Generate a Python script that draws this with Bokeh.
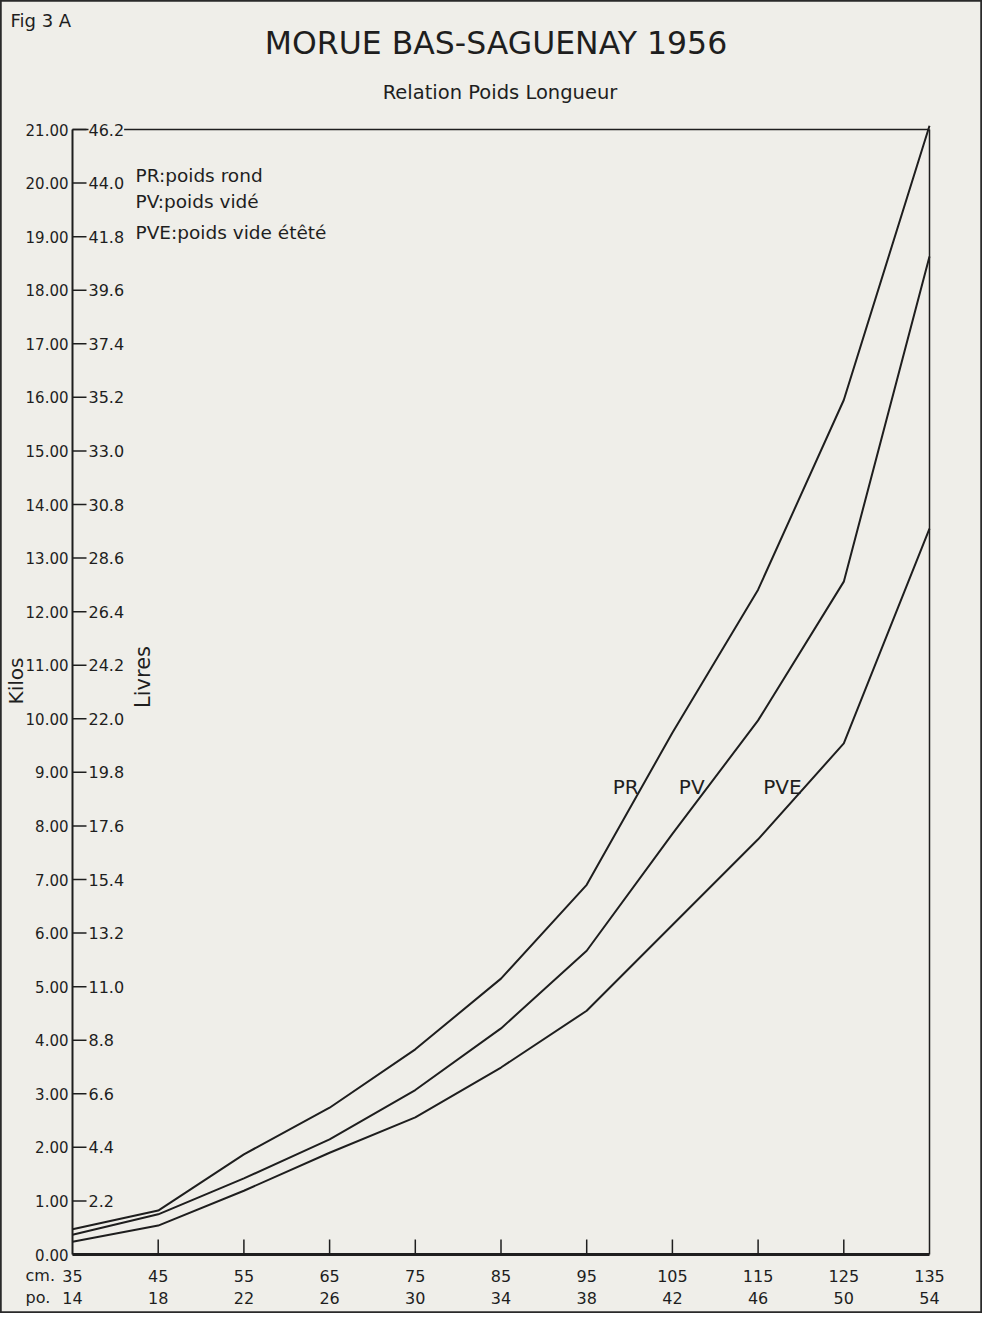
from bokeh.plotting import figure
from bokeh.models import Range1d
from bokeh.embed import file_html
from bokeh.resources import INLINE
from bokeh.core.properties import value
import numpy as np

# ---- data ----
cm = [35, 45, 55, 65, 75, 85, 95, 105, 115, 125, 135]
po = [14, 18, 22, 26, 30, 34, 38, 42, 46, 50, 54]
pr = [0.47, 0.82, 1.87, 2.74, 3.83, 5.15, 6.90, 9.74, 12.41, 15.95, 21.07]
pv = [0.37, 0.75, 1.42, 2.15, 3.07, 4.22, 5.67, 7.85, 9.97, 12.56, 18.63]
pve = [0.24, 0.54, 1.19, 1.90, 2.56, 3.49, 4.55, 6.15, 7.75, 9.54, 13.55]
kilos_ticks = list(range(0, 22))
livres_labels = ["2.2", "4.4", "6.6", "8.8", "11.0", "13.2", "15.4", "17.6", "19.8",
                 "22.0", "24.2", "26.4", "28.6", "30.8", "33.0", "35.2", "37.4",
                 "39.6", "41.8", "44.0", "46.2"]
series_names = ["PR", "PV", "PVE"]
legend_lines = ["PR:poids rond", "PV:poids vidé", "PVE:poids vide étêté"]

# ---- layout (pixels) ----
W, H = 982, 1313
BOX_L, BOX_R, BOX_T, BOX_B = 72, 929, 129, 1254

FONT = "DejaVu Sans"
INK = "#1e1e1e"
BG = "#efeee9"

xmin, xmax = cm[0], cm[-1]
ymin, ymax = kilos_ticks[0], kilos_ticks[-1]
px_x = (BOX_R - BOX_L) / (xmax - xmin)
px_y = (BOX_B - BOX_T) / (ymax - ymin)
x_range = Range1d(xmin - BOX_L / px_x, xmax + (W - BOX_R) / px_x)
y_range = Range1d(ymin - (H - BOX_B) / px_y, ymax + BOX_T / px_y)

p = figure(width=W, height=H, x_range=x_range, y_range=y_range,
           output_backend="svg", toolbar_location=None,
           x_axis_location=None, y_axis_location=None,
           min_border=0, background_fill_color=BG, border_fill_color=BG)
p.grid.visible = False
p.outline_line_color = "#2a2a2a"
p.outline_line_width = 2.5

# ---- plot box ----
p.segment(x0=[xmin], y0=[ymin], x1=[xmax], y1=[ymin], line_color=INK, line_width=3)
p.segment(x0=[xmin], y0=[ymin], x1=[xmin], y1=[ymax], line_color=INK, line_width=2)
p.segment(x0=[xmin], y0=[ymax], x1=[xmax], y1=[ymax], line_color=INK, line_width=1.5)
p.segment(x0=[xmax], y0=[ymin], x1=[xmax], y1=[ymax], line_color=INK, line_width=1.5)

# ---- ticks ----
inner_x = cm[1:-1]
p.segment(x0=inner_x, y0=[ymin] * len(inner_x), x1=inner_x,
          y1=[ymin + 15 / px_y] * len(inner_x), line_color=INK, line_width=1.5)
p.segment(x0=[xmin] * len(kilos_ticks), y0=kilos_ticks,
          x1=[xmin + 14 / px_x] * len(kilos_ticks), y1=kilos_ticks,
          line_color=INK, line_width=1.5)

# ---- curves ----
for ys in (pr, pv, pve):
    p.line(cm, ys, line_color=INK, line_width=2)


def txt(x, y, t, xo=0, yo=0, size="16px", align="left", baseline="middle",
        angle=0.0, **kw):
    p.text(x=x, y=y, text=t, x_offset=xo, y_offset=yo, angle=angle,
           text_align=align, text_baseline=baseline,
           text_font=value(FONT), text_font_size=size, text_color=INK, **kw)


# ---- tick labels ----
txt([xmin] * len(kilos_ticks), kilos_ticks,
    [f"{k:.2f}" for k in kilos_ticks], xo=-4, size="15px", align="right")
txt([xmin] * len(livres_labels), kilos_ticks[1:], livres_labels, xo=16,
    size="16px", background_fill_color=BG)
txt(cm, [ymin] * len(cm), [str(c) for c in cm], yo=21, size="16px", align="center")
txt(cm, [ymin] * len(po), [str(q) for q in po], yo=43, size="16px", align="center")
txt([xmin], [ymin], ["cm."], xo=-47, yo=21, size="16px")
txt([xmin], [ymin], ["po."], xo=-47, yo=43, size="16px")

# ---- curve labels ----
ylab = 8.72
for ys, name in zip((pr, pv, pve), series_names):
    xc = float(np.interp(ylab, ys, cm))
    txt([xc], [ylab], [name], xo=-3, size="20px", align="right")

# ---- titles and annotations ----
xmid = (xmin + xmax) / 2
txt([xmin], [ymax], ["Fig 3 A"], xo=-62, yo=-109, size="18px")
txt([xmid], [ymax], ["MORUE BAS-SAGUENAY 1956"], xo=-5, yo=-87, size="31.5px",
    align="center")
txt([xmid], [ymax], ["Relation Poids Longueur"], xo=-1, yo=-37, size="19.5px",
    align="center")
for line, dy in zip(legend_lines, (46, 72, 103)):
    txt([xmin], [ymax], [line], xo=63, yo=dy, size="18.5px")
txt([xmin], [(ymin + ymax) / 2], ["Kilos"], xo=-57, yo=-11, size="20px",
    align="center", angle=np.pi / 2)
txt([xmin], [(ymin + ymax) / 2], ["Livres"], xo=70, yo=-15, size="21px",
    align="center", angle=np.pi / 2)

open("out.html", "w").write(file_html(p, INLINE))
